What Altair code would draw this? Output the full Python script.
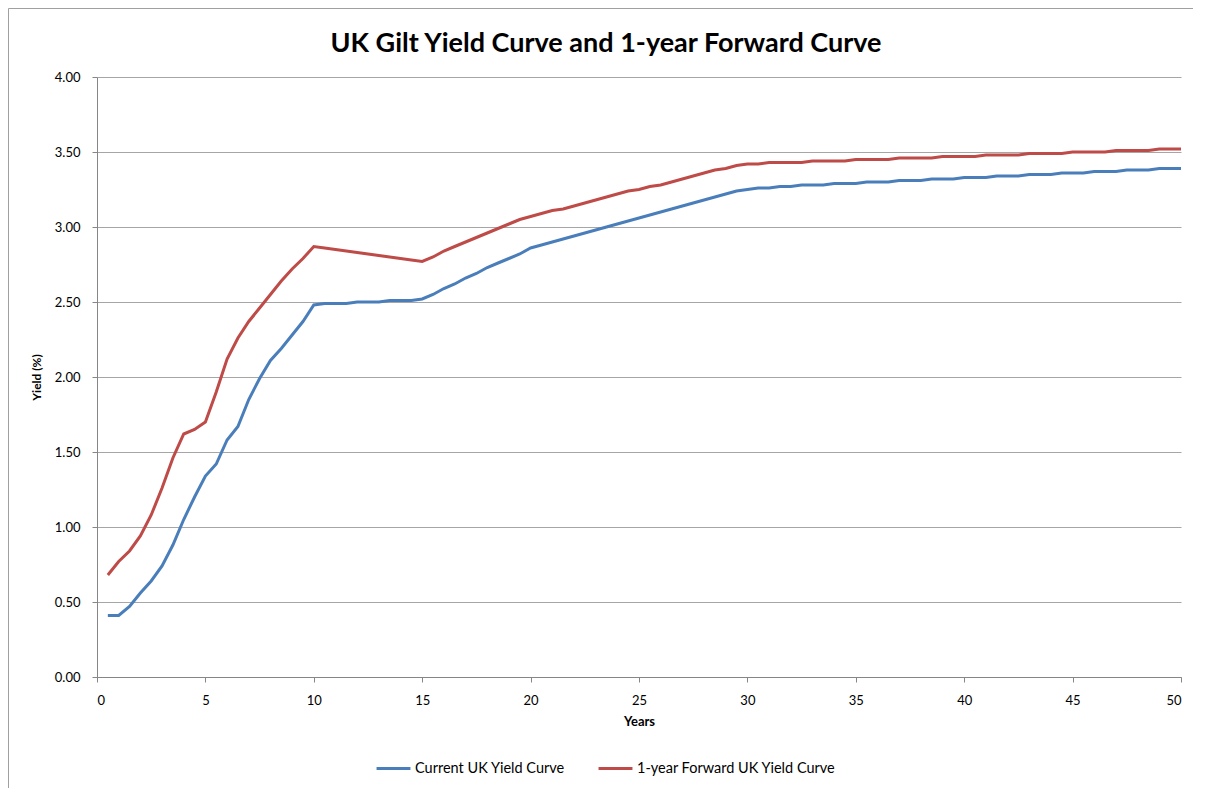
import altair as alt
import pandas as pd

years = [i * 0.5 for i in range(1, 101)]

current_uk = [
    0.41, 0.41, 0.47, 0.56, 0.64, 0.74, 0.88, 1.05, 1.20, 1.34,
    1.42, 1.58, 1.67, 1.85, 1.99, 2.11, 2.19, 2.28, 2.37, 2.48,
    2.49, 2.49, 2.49, 2.50, 2.50, 2.50, 2.51, 2.51, 2.51, 2.52,
    2.55, 2.59, 2.62, 2.66, 2.69, 2.73, 2.76, 2.79, 2.82, 2.86,
    2.88, 2.90, 2.92, 2.94, 2.96, 2.98, 3.00, 3.02, 3.04, 3.06,
    3.08, 3.10, 3.12, 3.14, 3.16, 3.18, 3.20, 3.22, 3.24, 3.25,
    3.26, 3.26, 3.27, 3.27, 3.28, 3.28, 3.28, 3.29, 3.29, 3.29,
    3.30, 3.30, 3.30, 3.31, 3.31, 3.31, 3.32, 3.32, 3.32, 3.33,
    3.33, 3.33, 3.34, 3.34, 3.34, 3.35, 3.35, 3.35, 3.36, 3.36,
    3.36, 3.37, 3.37, 3.37, 3.38, 3.38, 3.38, 3.39, 3.39, 3.39,
]

forward_uk = [
    0.68, 0.77, 0.84, 0.94, 1.08, 1.26, 1.46, 1.62, 1.65, 1.70,
    1.90, 2.12, 2.26, 2.37, 2.46, 2.55, 2.64, 2.72, 2.79, 2.87,
    2.86, 2.85, 2.84, 2.83, 2.82, 2.81, 2.80, 2.79, 2.78, 2.77,
    2.80, 2.84, 2.87, 2.90, 2.93, 2.96, 2.99, 3.02, 3.05, 3.07,
    3.09, 3.11, 3.12, 3.14, 3.16, 3.18, 3.20, 3.22, 3.24, 3.25,
    3.27, 3.28, 3.30, 3.32, 3.34, 3.36, 3.38, 3.39, 3.41, 3.42,
    3.42, 3.43, 3.43, 3.43, 3.43, 3.44, 3.44, 3.44, 3.44, 3.45,
    3.45, 3.45, 3.45, 3.46, 3.46, 3.46, 3.46, 3.47, 3.47, 3.47,
    3.47, 3.48, 3.48, 3.48, 3.48, 3.49, 3.49, 3.49, 3.49, 3.50,
    3.50, 3.50, 3.50, 3.51, 3.51, 3.51, 3.51, 3.52, 3.52, 3.52,
]

chart_title = "UK Gilt Yield Curve and 1-year Forward Curve"
series_names = ["Current UK Yield Curve", "1-year Forward UK Yield Curve"]
series_colors = ["#4A7EBB", "#BE4B48"]
x_ticks = [0, 5, 10, 15, 20, 25, 30, 35, 40, 45, 50]
y_ticks = [0, 0.5, 1.0, 1.5, 2.0, 2.5, 3.0, 3.5, 4.0]

df = pd.concat([
    pd.DataFrame({"Years": years, "Yield": current_uk, "Series": series_names[0], "order": 0}),
    pd.DataFrame({"Years": years, "Yield": forward_uk, "Series": series_names[1], "order": 1}),
])

FONT = "Lato"
W, H = 1084, 600
PAD_L, PAD_T = 89, 69

lines = alt.Chart(df).mark_line(strokeWidth=3).encode(
    x=alt.X("Years:Q",
            scale=alt.Scale(domain=[0, 50], nice=False),
            axis=alt.Axis(values=x_ticks, title="Years", grid=False,
                          labelFontSize=13, labelColor="#000000",
                          titleFontSize=13, titleFontWeight="bold", titleColor="#000000",
                          domainColor="#868686", tickColor="#868686", tickSize=5,
                          labelPadding=12, titlePadding=8)),
    y=alt.Y("Yield:Q",
            scale=alt.Scale(domain=[0, 4], nice=False),
            axis=alt.Axis(values=y_ticks, format=".2f", title="Yield (%)",
                          grid=True, gridColor="#A6A6A6", gridWidth=1,
                          labelFontSize=13, labelColor="#000000",
                          titleFontSize=12, titleFontWeight="bold", titleColor="#000000",
                          domainColor="#868686", tickColor="#868686", tickSize=5,
                          labelPadding=12, titlePadding=11)),
    color=alt.Color("Series:N",
                    scale=alt.Scale(domain=series_names, range=series_colors),
                    legend=alt.Legend(title=None, orient="none", direction="horizontal",
                                      legendX=278, legendY=673,
                                      symbolType="stroke", symbolStrokeWidth=3,
                                      symbolSize=1150, labelFontSize=14.5,
                                      labelColor="#000000", labelOffset=3,
                                      labelLimit=400, columnPadding=27)),
    order="order:Q",
    detail="Series:N",
)

border = alt.Chart(alt.Data(values=[{"a": 1}])).mark_rect(
    fill=None, stroke="#A0A0A0", strokeWidth=1
).encode(
    x=alt.value(-PAD_L + 0.5), x2=alt.value(1202 - PAD_L),
    y=alt.value(-PAD_T + 0.5), y2=alt.value(760),
)

title_text = alt.Chart(alt.Data(values=[{"a": 1}])).mark_text(
    text=chart_title, font=FONT, fontSize=27, fontWeight="bold",
    color="#000000", align="center", baseline="alphabetic"
).encode(
    x=alt.value(509), y=alt.value(-25),
)

chart = alt.layer(border, title_text, lines).properties(
    width=W, height=H,
    autosize=alt.AutoSizeParams(type="none"),
    padding={"left": PAD_L, "top": PAD_T, "right": 12, "bottom": 130},
).configure(font=FONT).configure_view(stroke=None).configure_axis(
    labelFont=FONT, titleFont=FONT
).configure_legend(labelFont=FONT)

chart.save("out.html", embed_options={"renderer": "svg", "actions": False})
